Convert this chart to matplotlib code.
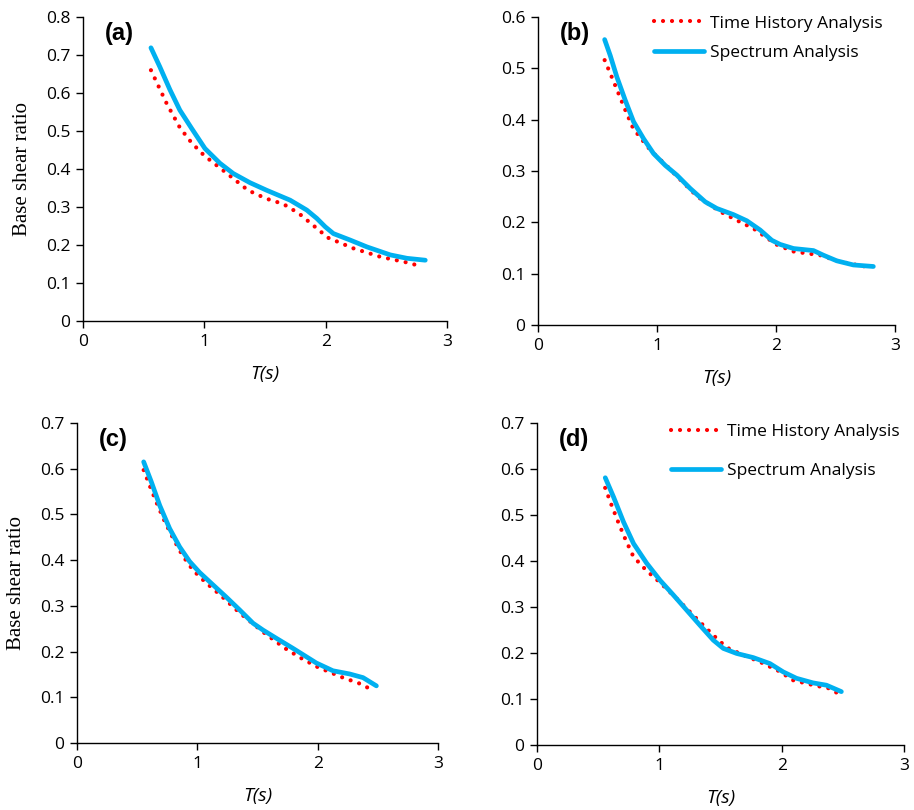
import matplotlib
matplotlib.use('Agg')
import matplotlib.pyplot as plt
from matplotlib.ticker import FuncFormatter

# panel (a)
a_th_t = [0.56, 0.69, 0.80, 0.895, 1.0, 1.18, 1.36, 1.51, 1.65, 1.78, 1.90, 2.02, 2.23, 2.45, 2.67, 2.75]
a_th_v = [0.660, 0.572, 0.508, 0.469, 0.435, 0.390, 0.344, 0.322, 0.308, 0.283, 0.251, 0.219, 0.191, 0.169, 0.154, 0.147]
a_sp_t = [0.56, 0.633, 0.716, 0.798, 0.895, 1.005, 1.129, 1.239, 1.376, 1.514, 1.707, 1.844, 1.927,
          1.996, 2.064, 2.202, 2.340, 2.532, 2.670, 2.821]
a_sp_v = [0.719, 0.669, 0.609, 0.555, 0.507, 0.454, 0.415, 0.388, 0.364, 0.344, 0.318, 0.292, 0.270,
          0.248, 0.230, 0.213, 0.195, 0.174, 0.165, 0.160]

# panel (b)
b_th_t = [0.56, 0.62, 0.68, 0.74, 0.80, 0.85, 0.95, 1.06, 1.17, 1.34, 1.53, 1.67, 1.81, 1.94, 2.01, 2.15, 2.37, 2.54, 2.75]
b_th_v = [0.516, 0.483, 0.449, 0.415, 0.383, 0.368, 0.339, 0.315, 0.289, 0.250, 0.221, 0.204, 0.188, 0.167, 0.156, 0.143, 0.136, 0.123, 0.114]
b_sp_t = [0.560, 0.607, 0.663, 0.733, 0.803, 0.887, 0.971, 1.069, 1.167, 1.279, 1.405, 1.503, 1.643,
          1.755, 1.867, 1.965, 2.035, 2.147, 2.315, 2.398, 2.511, 2.650, 2.818]
b_sp_v = [0.556, 0.525, 0.483, 0.438, 0.396, 0.363, 0.334, 0.311, 0.292, 0.266, 0.240, 0.227, 0.215,
          0.203, 0.185, 0.165, 0.157, 0.149, 0.145, 0.136, 0.125, 0.117, 0.114]

# panel (c)
c_th_t = [0.554, 0.61, 0.667, 0.73, 0.80, 0.875, 0.964, 1.07, 1.19, 1.35, 1.55, 1.73, 1.86, 2.0, 2.21, 2.36, 2.43]
c_th_v = [0.597, 0.559, 0.522, 0.484, 0.447, 0.411, 0.378, 0.351, 0.324, 0.285, 0.242, 0.207, 0.186, 0.166, 0.143, 0.129, 0.119]
c_sp_t = [0.554, 0.618, 0.687, 0.770, 0.853, 0.936, 1.019, 1.130, 1.241, 1.352, 1.463, 1.546, 1.657,
          1.795, 1.989, 2.127, 2.266, 2.377, 2.488]
c_sp_v = [0.615, 0.571, 0.520, 0.469, 0.429, 0.397, 0.373, 0.346, 0.319, 0.291, 0.262, 0.247, 0.229,
          0.207, 0.175, 0.158, 0.151, 0.143, 0.125]

# panel (d)
d_th_t = [0.557, 0.61, 0.666, 0.726, 0.789, 0.892, 1.006, 1.17, 1.33, 1.44, 1.55, 1.69, 1.82, 1.99, 2.09, 2.26, 2.39, 2.46]
d_th_v = [0.559, 0.521, 0.483, 0.445, 0.409, 0.380, 0.353, 0.311, 0.268, 0.239, 0.212, 0.195, 0.181, 0.159, 0.141, 0.130, 0.123, 0.112]
d_sp_t = [0.558, 0.626, 0.707, 0.789, 0.897, 1.006, 1.115, 1.224, 1.333, 1.441, 1.523, 1.632, 1.768,
          1.904, 2.012, 2.121, 2.257, 2.366, 2.488]
d_sp_v = [0.581, 0.539, 0.485, 0.438, 0.395, 0.358, 0.326, 0.293, 0.260, 0.228, 0.210, 0.199, 0.190,
          0.177, 0.159, 0.145, 0.135, 0.130, 0.116]

panel_tags = ['(a)', '(b)', '(c)', '(d)']
y_tops = [0.8, 0.6, 0.7, 0.7]
x_ticks = [0, 1, 2, 3]
th_label = 'Time History Analysis'
sp_label = 'Spectrum Analysis'

RED = '#FF0000'
BLUE = '#00B0F0'
tick_font = 'Open Sans'

W, H = 914, 810
fig = plt.figure(figsize=(W / 100, H / 100), dpi=100)

# axes boxes in pixels: left, right, top, bottom
boxes = [(83, 447, 17, 321), (538, 895, 17, 325), (77, 438, 423, 743), (537, 904, 423, 745)]
data = [(a_th_t, a_th_v, a_sp_t, a_sp_v), (b_th_t, b_th_v, b_sp_t, b_sp_v),
        (c_th_t, c_th_v, c_sp_t, c_sp_v), (d_th_t, d_th_v, d_sp_t, d_sp_v)]

for i, (l, r, t, b) in enumerate(boxes):
    ax = fig.add_axes([l / W, 1 - b / H, (r - l) / W, (b - t) / H])
    th_t, th_v, sp_t, sp_v = data[i]
    ax.plot(th_t, th_v, color=RED, lw=3.0, linestyle=(0, (0.01, 2.15)),
            dash_capstyle='round', label=th_label, zorder=2)
    ax.plot(sp_t, sp_v, color=BLUE, lw=3.4, solid_capstyle='round',
            solid_joinstyle='round', label=sp_label, zorder=3)
    ax.set_xlim(0, 3)
    ax.set_ylim(0, y_tops[i])
    ax.set_xticks(x_ticks)
    ax.set_yticks([k / 10 for k in range(int(round(y_tops[i] * 10)) + 1)])
    ax.yaxis.set_major_formatter(FuncFormatter(lambda v, p: '%g' % round(v, 2)))
    for s in ['top', 'right']:
        ax.spines[s].set_visible(False)
    for s in ['left', 'bottom']:
        ax.spines[s].set_linewidth(1.0)
        ax.spines[s].set_color('black')
    ax.tick_params(direction='out', length=5, width=1, labelsize=12.5, pad=4)
    for lab in ax.get_xticklabels() + ax.get_yticklabels():
        lab.set_fontfamily(tick_font)
    ax.set_xlabel('T(s)', fontfamily=tick_font, fontstyle='italic', fontsize=14, labelpad=11)
    if i % 2 == 0:
        ax.set_ylabel('Base shear ratio', fontfamily='Liberation Serif', fontsize=15, labelpad=10)
    ax.text(0.06, 0.985, panel_tags[i], transform=ax.transAxes, fontfamily='Liberation Sans',
            fontweight='bold', fontsize=17, va='top', ha='left')
    if i == 1:
        ax.legend(loc='upper left', bbox_to_anchor=(0.28, 1.056), frameon=False,
                  prop={'family': tick_font, 'size': 12.5}, handlelength=2.9,
                  handletextpad=0.35, labelspacing=0.75)
    if i == 3:
        ax.legend(loc='upper left', bbox_to_anchor=(0.322, 1.046), frameon=False,
                  prop={'family': tick_font, 'size': 12.5}, handlelength=2.9,
                  handletextpad=0.35, labelspacing=1.3)

fig.savefig('out.png', dpi=100)
